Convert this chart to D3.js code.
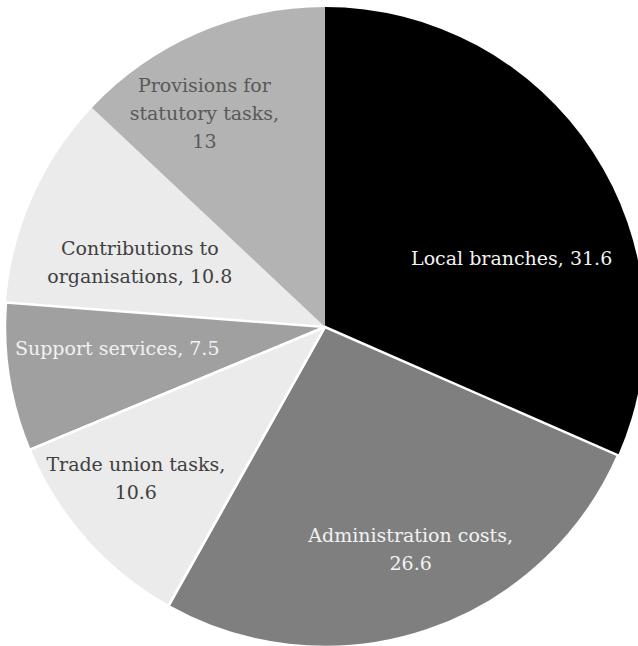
<!DOCTYPE html>
<html>
<head>
<meta charset="utf-8">
<script src="https://cdn.jsdelivr.net/npm/d3@7"></script>
<style>
  html, body { margin: 0; padding: 0; background: #ffffff; }
  svg { display: block; }
</style>
</head>
<body>
<svg id="chart" width="638" height="646"></svg>
<script>
// ---- data ----
const categories = ["Local branches", "Administration costs", "Trade union tasks",
                    "Support services", "Contributions to organisations", "Provisions for statutory tasks"];
const values = [31.6, 26.6, 10.6, 7.5, 10.8, 13];
const labelLines = [
  ["Local branches, 31.6"],
  ["Administration costs,", "26.6"],
  ["Trade union tasks,", "10.6"],
  ["Support services, 7.5"],
  ["Contributions to", "organisations, 10.8"],
  ["Provisions for", "statutory tasks,", "13"]
];

// ---- styling / layout ----
const fills = ["#000000", "#7f7f7f", "#ebebeb", "#a0a0a0", "#ebebeb", "#b3b3b3"];
const textFills = ["#f2f2f2", "#f2f2f2", "#404040", "#f2f2f2", "#404040", "#595959"];
const outlined = [false, true, true, true, false, false];
const labelRadiusFrac = [0.622, 0.746, 0.758, 0.653, 0.613, 0.766];
const labelAngleShiftDeg = [12.85, -2.5, 2.9, 3.1, -4.6, -6.1];

const cx = 325, cy = 327, R = 320;
const fontSize = 19, lineH = 28;

const svg = d3.select("#chart");
const g = svg.append("g").attr("transform", `translate(${cx},${cy})`);

const pie = d3.pie().sort(null).value(d => d);
const arcs = pie(values);
const arc = d3.arc().innerRadius(0).outerRadius(R);

g.selectAll("path.slice")
  .data(arcs)
  .join("path")
  .attr("class", "slice")
  .attr("d", arc)
  .attr("fill", (d, i) => fills[i]);

g.selectAll("path.edge")
  .data(arcs.filter((d, i) => outlined[i]))
  .join("path")
  .attr("class", "edge")
  .attr("d", arc)
  .attr("fill", "none")
  .attr("stroke", "#ffffff")
  .attr("stroke-width", 2.5)
  .attr("stroke-linejoin", "round");

const labels = g.selectAll("text.lbl")
  .data(arcs)
  .join("text")
  .attr("class", "lbl")
  .attr("font-family", "'DejaVu Serif', serif")
  .attr("font-size", fontSize)
  .attr("text-anchor", "middle")
  .attr("fill", (d, i) => textFills[i])
  .each(function(d, i) {
    const mid = (d.startAngle + d.endAngle) / 2 + labelAngleShiftDeg[i] * Math.PI / 180;
    const r = labelRadiusFrac[i] * R;
    const x = r * Math.sin(mid), y = -r * Math.cos(mid);
    const lines = labelLines[i];
    const t = d3.select(this);
    lines.forEach((ln, k) => {
      t.append("tspan")
        .attr("x", x)
        .attr("y", y + (k - (lines.length - 1) / 2) * lineH)
        .attr("dy", "0.35em")
        .text(ln);
    });
  });
</script>
</body>
</html>
